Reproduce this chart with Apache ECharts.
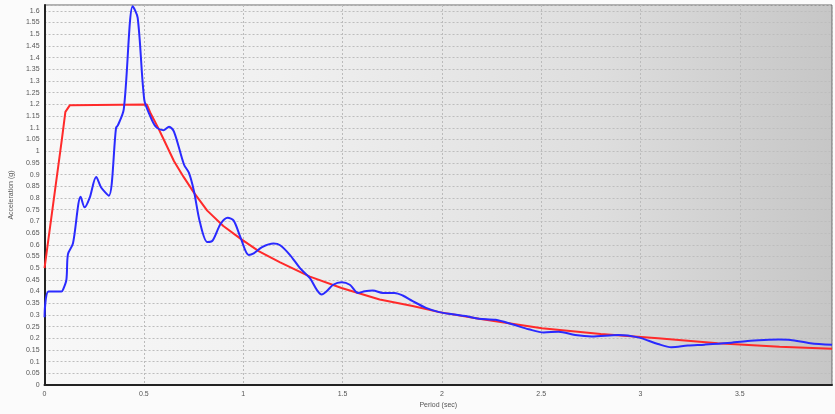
<!DOCTYPE html>
<html>
<head>
<meta charset="utf-8">
<script src="https://cdn.jsdelivr.net/npm/echarts@6/dist/echarts.min.js"></script>
<style>
html,body{margin:0;padding:0;background:#fbfbfb;}
#c{width:835px;height:414px;}
</style>
</head>
<body>
<div id="c"></div>
<script>
// Period (sec) / Acceleration (g) pairs
const recordT = [0,0.02,0.085,0.094,0.11,0.118,0.143,0.182,0.202,0.227,0.26,0.285,0.324,0.36,0.369,0.399,0.444,0.469,0.502,0.527,0.56,0.6,0.627,0.652,0.702,0.727,0.752,0.782,0.819,0.844,0.886,0.922,0.952,0.986,1.028,1.053,1.095,1.153,1.186,1.236,1.286,1.336,1.37,1.395,1.42,1.453,1.495,1.537,1.578,1.612,1.653,1.703,1.762,1.803,1.853,1.92,1.987,2.054,2.12,2.187,2.271,2.354,2.437,2.513,2.588,2.671,2.754,2.888,2.988,3.088,3.155,3.238,3.322,3.438,3.539,3.622,3.697,3.755,3.855,3.964];
const recordA = [0.29,0.40,0.40,0.41,0.45,0.56,0.605,0.805,0.76,0.80,0.89,0.845,0.81,1.10,1.11,1.18,1.62,1.57,1.22,1.16,1.105,1.09,1.105,1.083,0.943,0.907,0.83,0.697,0.612,0.616,0.689,0.715,0.703,0.633,0.556,0.563,0.59,0.605,0.598,0.556,0.50,0.457,0.408,0.387,0.401,0.429,0.44,0.429,0.394,0.401,0.404,0.394,0.394,0.383,0.359,0.33,0.312,0.303,0.295,0.284,0.279,0.26,0.239,0.225,0.228,0.214,0.208,0.214,0.204,0.176,0.162,0.169,0.173,0.18,0.189,0.193,0.195,0.193,0.179,0.172];
const designT = [0,0.088,0.105,0.127,0.515,0.535,0.569,0.6,0.652,0.7,0.752,0.819,0.9,0.986,1.08,1.186,1.336,1.495,1.687,1.853,1.987,2.187,2.504,2.8,3.088,3.388,3.7,3.964];
const designA = [0.5,1.055,1.168,1.196,1.2,1.16,1.105,1.05,0.957,0.89,0.823,0.746,0.68,0.626,0.572,0.525,0.464,0.415,0.366,0.338,0.312,0.284,0.243,0.218,0.2,0.179,0.164,0.155];

const pair = (xs, ys) => xs.map((x, i) => [x, ys[i]]);
const chart = echarts.init(document.getElementById('c'));
const isTick = (v, step) => Math.abs(v / step - Math.round(v / step)) < 1e-6;
chart.setOption({
  animation: false,
  backgroundColor: '#fbfbfb',
  grid: {
    left: 43, right: 0, top: 5, bottom: 24,
    show: true,
    borderColor: '#666', borderWidth: 1,
    backgroundColor: {type:'linear', x:0, y:0, x2:1, y2:0, colorStops:[
      {offset:0, color:'#f8f8f8'},{offset:0.3, color:'#f0f0f0'},{offset:0.7, color:'#dedede'},{offset:1, color:'#c6c6c6'}]}
  },
  xAxis: {
    type: 'value', min: 0, max: 3.964, interval: 0.5,
    name: 'Period (sec)', nameLocation: 'middle', nameGap: 14,
    nameTextStyle: {fontSize: 7, color: '#555', fontFamily: 'Liberation Sans'},
    axisLine: {lineStyle: {color: '#222', width: 2}},
    axisTick: {show: false},
    axisLabel: {fontSize: 7, color: '#555', margin: 5, fontFamily: 'Liberation Sans',
      formatter: v => isTick(v, 0.5) ? String(v) : ''},
    splitLine: {show: true, lineStyle: {color: '#bbbbbb', type: [2, 2], width: 1}}
  },
  yAxis: {
    type: 'value', min: 0, max: 1.625, interval: 0.05,
    name: 'Acceleration (g)', nameLocation: 'middle', nameGap: 26, nameRotate: 90,
    nameTextStyle: {fontSize: 7, color: '#555', fontFamily: 'Liberation Sans'},
    axisLine: {lineStyle: {color: '#222', width: 2}},
    axisTick: {show: false},
    axisLabel: {fontSize: 7, color: '#555', margin: 5, fontFamily: 'Liberation Sans',
      formatter: v => isTick(v, 0.05) ? String(+v.toFixed(2)) : ''},
    splitLine: {show: true, lineStyle: {color: '#bdbdbd', type: [2, 2], width: 1}}
  },
  series: [
    {type: 'line', data: pair(designT, designA), showSymbol: false, smooth: false,
     lineStyle: {color: '#ff2a2a', width: 2}, z: 2},
    {type: 'line', data: pair(recordT, recordA), showSymbol: false, smooth: 0.3,
     lineStyle: {color: '#2a2aff', width: 2}, z: 3}
  ]
});
</script>
</body>
</html>
